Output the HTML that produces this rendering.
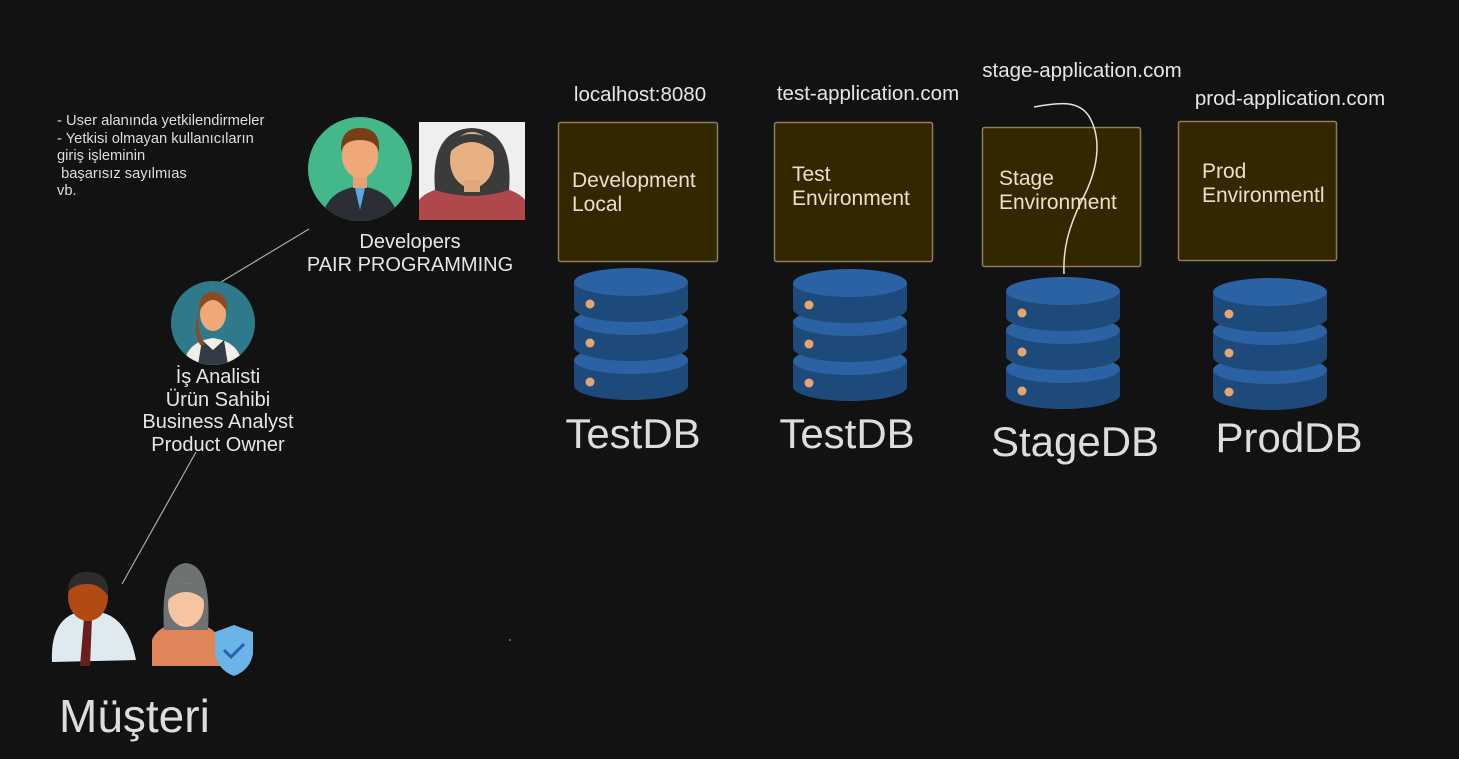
<!DOCTYPE html>
<html><head><meta charset="utf-8"><style>
html,body{margin:0;padding:0;background:#121212;}
body{width:1459px;height:759px;overflow:hidden;position:relative;font-family:"Liberation Sans",Arial,sans-serif;}
.t{position:absolute;color:#e6e6e6;white-space:nowrap;}
</style></head><body>
<svg width="1459" height="759" style="position:absolute;left:0;top:0" xmlns="http://www.w3.org/2000/svg">
<defs>
<g id="db">
 <g>
  <rect x="0" y="92" width="114" height="26" fill="#1d4a7b"/><ellipse cx="57" cy="118" rx="57" ry="14" fill="#1d4a7b"/><ellipse cx="57" cy="92" rx="57" ry="14" fill="#2a62a3"/>
  <rect x="0" y="53" width="114" height="26" fill="#1d4a7b"/><ellipse cx="57" cy="79" rx="57" ry="14" fill="#1d4a7b"/><ellipse cx="57" cy="53" rx="57" ry="14" fill="#2a62a3"/>
  <rect x="0" y="14" width="114" height="26" fill="#1d4a7b"/><ellipse cx="57" cy="40" rx="57" ry="14" fill="#1d4a7b"/><ellipse cx="57" cy="14" rx="57" ry="14" fill="#2a62a3"/>
  <circle cx="16" cy="36" r="4.5" fill="#e8a56f"/><circle cx="16" cy="75" r="4.5" fill="#e8a56f"/><circle cx="16" cy="114" r="4.5" fill="#e8a56f"/>
 </g>
</g>
</defs>
<g fill="#332700" stroke="#8a7f5a" stroke-width="1.5">
<rect x="558.5" y="122.5" width="159" height="139" rx="2"/>
<rect x="774.5" y="122.5" width="158" height="139" rx="2"/>
<rect x="982.5" y="127.5" width="158" height="139" rx="2"/>
<rect x="1178.5" y="121.5" width="158" height="139" rx="2"/>
</g>
<use href="#db" x="574" y="268"/>
<use href="#db" x="793" y="269"/>
<use href="#db" x="1006" y="277"/>
<use href="#db" x="1213" y="278"/>
<path d="M1034 107 C1060 102 1080 100 1090 118 C1102 140 1098 170 1082 200 C1068 228 1063 250 1064 274" fill="none" stroke="#e8e4d8" stroke-width="1.5"/>
<line x1="309" y1="229" x2="221" y2="282" stroke="#aaa" stroke-width="1.2"/>
<line x1="196" y1="452" x2="122" y2="584" stroke="#aaa" stroke-width="1.2"/>
<circle cx="360" cy="169" r="52" fill="#43b88a"/>
<clipPath id="c1"><circle cx="360" cy="169" r="52"/></clipPath>
<g clip-path="url(#c1)">
<path d="M322 221 Q325 190 360 186 Q395 190 398 221Z" fill="#2b2f35"/>
<rect x="353" y="172" width="14" height="16" fill="#e8a070"/>
<ellipse cx="360" cy="156" rx="18" ry="22" fill="#f0a878"/>
<path d="M341 152 Q340 128 360 128 Q381 128 379 152 Q376 140 360 140 Q344 140 341 152Z" fill="#7a3d1a"/>
<path d="M355 188 L360 210 L365 188Z" fill="#5aa9e0"/>
</g>
<rect x="419" y="122" width="106" height="98" fill="#efefef"/>
<path d="M419 220 L419 200 Q430 186 472 184 Q514 186 525 200 L525 220Z" fill="#b0474b"/>
<path d="M435 190 Q430 130 472 128 Q514 130 509 190 Q490 196 472 196 Q454 196 435 190Z" fill="#3b3b3b"/>
<ellipse cx="472" cy="160" rx="22" ry="28" fill="#e8b184"/>
<rect x="464" y="180" width="16" height="12" fill="#e0a878"/>
<path d="M450 152 Q452 134 472 134 Q492 134 494 152 Q482 142 472 142 Q460 142 450 152Z" fill="#3b3b3b"/>
<circle cx="213" cy="323" r="42" fill="#2e7a8a"/>
<clipPath id="c2"><circle cx="213" cy="323" r="42"/></clipPath>
<g clip-path="url(#c2)">
<path d="M184 365 Q186 342 213 338 Q240 342 242 365Z" fill="#f0efe8"/>
<path d="M198 365 L202 340 L213 350 L224 340 L228 365Z" fill="#343a46"/>
<ellipse cx="213" cy="314" rx="13" ry="17" fill="#f0a878"/>
<path d="M199 312 Q198 292 213 292 Q228 292 227 312 Q220 300 213 300 Q205 300 199 312Z" fill="#8a4a22"/>
<path d="M199 310 Q196 330 205 345 L200 345 Q192 330 199 310Z" fill="#8a4a22"/>
</g>
<path d="M52 662 Q50 620 78 612 L100 612 Q128 618 136 660 Z" fill="#dfeaf0"/>
<path d="M84 618 L92 618 L90 666 L80 666Z" fill="#6b1e1e"/>
<ellipse cx="88" cy="597" rx="20" ry="24" fill="#b24a14"/>
<path d="M68 592 Q68 570 90 572 Q110 574 108 596 Q100 584 88 584 Q74 584 68 592Z" fill="#2d2d2d"/>
<path d="M152 666 L152 640 Q158 624 186 622 Q214 624 220 640 L220 666Z" fill="#e0845a"/>
<path d="M164 630 Q160 565 186 563 Q212 565 208 630Z" fill="#6e7273"/>
<ellipse cx="186" cy="605" rx="18" ry="22" fill="#f5c4a0"/>
<path d="M168 600 Q168 584 186 583 Q204 584 204 600 Q196 592 186 592 Q176 592 168 600Z" fill="#6e7273"/>
<path d="M234 625 L253 632 L253 654 Q250 670 234 676 Q218 670 215 654 L215 632Z" fill="#6bb4e8"/>
<path d="M224 650 L231 657 L244 644" fill="none" stroke="#2860b0" stroke-width="3"/>
<circle cx="510" cy="640" r="0.8" fill="#bbb"/>
</svg>
<div class="t" style="left:57px;top:113px;font-size:14.7px;line-height:17.5px;color:#ddd">- User alanında yetkilendirmeler<br>- Yetkisi olmayan kullanıcıların<br>giriş işleminin<br>&nbsp;başarısız sayılmıas<br>vb.</div>
<div class="t" style="left:300px;top:231px;width:220px;text-align:center;font-size:20px;line-height:23px">Developers<br>PAIR PROGRAMMING</div>
<div class="t" style="left:118px;top:366px;width:200px;text-align:center;font-size:20px;line-height:22.5px">İş Analisti<br>Ürün Sahibi<br>Business Analyst<br>Product Owner</div>
<div class="t" style="left:59px;top:689px;font-size:46px;color:#ddd">Müşteri</div>
<div class="t" style="left:540px;top:83px;width:200px;text-align:center;font-size:20.5px">localhost:8080</div>
<div class="t" style="left:758px;top:82px;width:220px;text-align:center;font-size:20.5px">test-application.com</div>
<div class="t" style="left:962px;top:59px;width:240px;text-align:center;font-size:20.5px">stage-application.com</div>
<div class="t" style="left:1170px;top:87px;width:240px;text-align:center;font-size:20.5px">prod-application.com</div>
<div class="t" style="left:572px;top:169px;font-size:21px;line-height:24px;color:#e8e0cc">Development<br>Local</div>
<div class="t" style="left:792px;top:163px;font-size:21px;line-height:24px;color:#e8e0cc">Test<br>Environment</div>
<div class="t" style="left:999px;top:167px;font-size:21px;line-height:24px;color:#e8e0cc">Stage<br>Environment</div>
<div class="t" style="left:1202px;top:160px;font-size:21px;line-height:24px;color:#e8e0cc">Prod<br>Environmentl</div>
<div class="t" style="left:533px;top:410px;width:200px;text-align:center;font-size:42px;color:#ddd">TestDB</div>
<div class="t" style="left:747px;top:410px;width:200px;text-align:center;font-size:42px;color:#ddd">TestDB</div>
<div class="t" style="left:965px;top:418px;width:220px;text-align:center;font-size:42px;color:#ddd">StageDB</div>
<div class="t" style="left:1179px;top:414px;width:220px;text-align:center;font-size:42px;color:#ddd">ProdDB</div>
</body></html>
